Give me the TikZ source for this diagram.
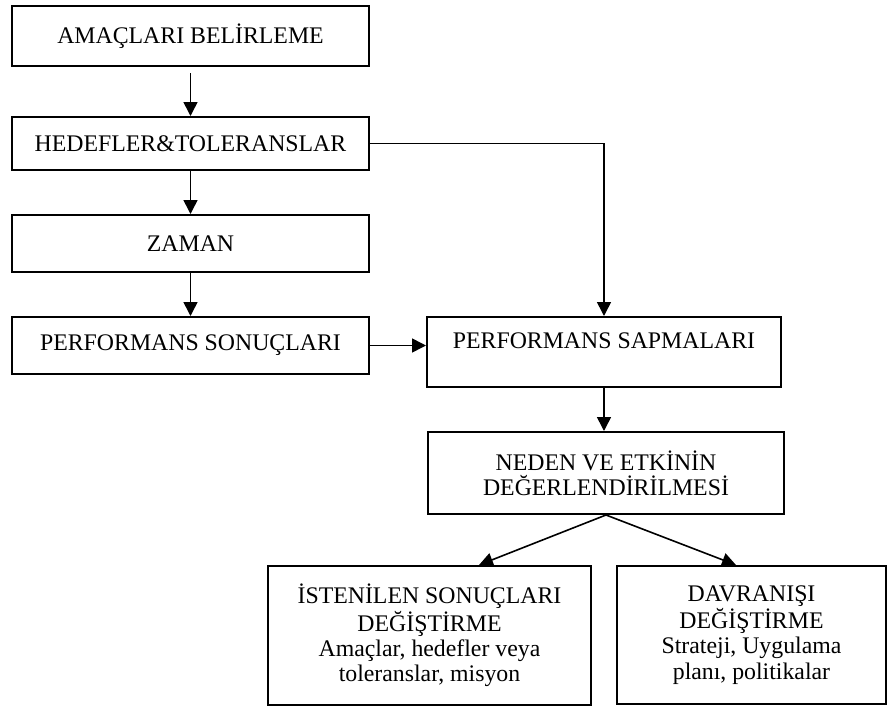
\documentclass[tikz,border=0pt]{standalone}
\usepackage{fontspec}
\setmainfont{Liberation Serif}
\usetikzlibrary{arrows.meta}
\begin{document}
\begin{tikzpicture}[x=0.5pt,y=-0.5pt,
  kutu/.style={draw,line width=1pt,align=center,inner sep=0pt,font=\fontsize{11.9}{12.6}\selectfont},
  ok/.style={-{Triangle[length=7pt,width=7pt]},line width=0.8pt}]
\useasboundingbox (0,0) rectangle (891,707);
\node[kutu,minimum width=178.5pt,minimum height=30pt] (amac) at (190.5,36) {AMAÇLARI BELİRLEME};
\node[kutu,minimum width=178.5pt,minimum height=26.5pt] (hedef) at (190.5,143.5) {HEDEFLER\&TOLERANSLAR};
\node[kutu,minimum width=178.5pt,minimum height=28.5pt] (zaman) at (190.5,243.5) {ZAMAN};
\node[kutu,minimum width=178.5pt,minimum height=28.5pt] (sonuc) at (190.5,345.5) {PERFORMANS SONUÇLARI};
\node[kutu,minimum width=177pt,minimum height=35pt,text depth=11.5pt] (sapma) at (604,352) {PERFORMANS SAPMALARI};
\node[kutu,minimum width=178pt,minimum height=41pt] (neden) at (606,473) {NEDEN VE ETKİNİN\\DEĞERLENDİRİLMESİ};
\node[kutu,minimum width=161.5pt,minimum height=69.5pt] (istenilen) at (429.5,635.5) {İSTENİLEN SONUÇLARI\\DEĞİŞTİRME\\Amaçlar, hedefler veya\\toleranslar, misyon};
\node[kutu,minimum width=134.5pt,minimum height=69pt] (davranis) at (751.5,635) {DAVRANIŞI\\DEĞİŞTİRME\\Strateji, Uygulama\\planı, politikalar};
\draw[ok,shorten <=3pt] (amac) -- (hedef);
\draw[ok] (hedef) -- (zaman);
\draw[ok] (zaman) -- (sonuc);
\draw[ok] (hedef.east) -| (sapma.north);
\draw[ok] (sonuc.east) -- (sonuc.east -| sapma.west);
\draw[ok] (sapma.south) -- (sapma.south |- neden.north);
\draw[ok] (neden.south) -- ([xshift=106pt]istenilen.north west);
\draw[ok] (neden.south) -- ([xshift=60pt]davranis.north west);
\end{tikzpicture}
\end{document}
